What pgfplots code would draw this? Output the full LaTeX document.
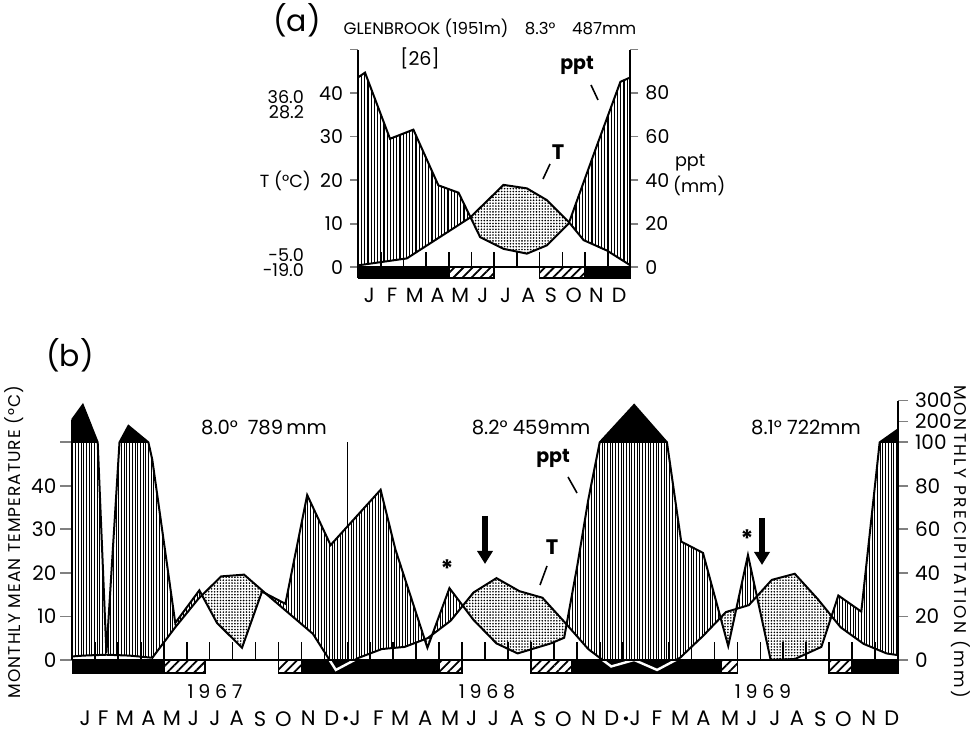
\documentclass[border=0pt]{standalone}
\usepackage{fontspec}
\setmainfont{Poppins}
\usepackage{pgfplots}
\usepackage{pgfplotstable}
\pgfplotsset{compat=1.18}
\usepgfplotslibrary{fillbetween}
\usetikzlibrary{patterns.meta,arrows.meta}

% ---------- panel (a): Glenbrook long-term means ----------
\pgfplotstableread{
x ppt
0 87.2
0.31 89.4
1.41 59.0
2.44 63.2
3.54 37.6
4.43 34.2
5.38 13.8
6.41 8.4
7.44 6.2
8.32 10.0
9.28 20.0
10.5 55.2
11.56 85.2
12 87.2
}\pptA
\pgfplotstableread{
x T
0 0.4
2.15 2.0
4.94 11.4
6.41 18.9
7.44 18.1
8.32 15.4
9.28 10.4
9.94 6.2
10.97 3.8
12 0.4
}\TA
% ---------- panel (b): monthly 1967-1969 ----------
\pgfplotstableread{
x ppt
0 208
0.47 279
1.12 100
1.5 3.2
2.07 100
2.46 179
3.33 100
3.5 92
4.5 17
5.55 32
6.32 17
7.41 5.6
8.28 31.4
9.3 25.8
10.25 75.8
11.27 52.8
13.45 78.2
14.1 50.6
15.49 5.6
16.45 33
17.5 18.4
18.5 7.6
19.42 3
20.87 7.6
21.45 10.2
22.04 44.4
22.5 73.6
23.0 100
24.5 279
25.93 100
26.55 54.4
27.5 49.2
28.6 6.4
29.46 48.2
30.45 0
31.5 0.4
32.66 6
33.4 29.6
34.4 22.2
35.2 100
36 162
}\pptB
\pgfplotstableread{
x T
0 0.8
0.5 1.0
1.5 1.2
2.5 1.0
3.5 0.5
4.5 7.5
5.5 14.0
6.5 19.2
7.5 19.6
8.5 15.0
9.5 10.5
10.5 6.0
11.5 -2.3
12.5 0.5
13.5 2.5
14.5 3.0
15.5 5.0
16.5 9.0
17.5 15.5
18.5 18.8
19.5 15.8
20.5 14.3
21.5 8.5
22.5 2.5
23.5 -1.5
24.5 0.0
25.5 -2.3
26.5 0.5
27.5 5.5
28.5 11.0
29.5 12.6
30.5 18.4
31.5 19.8
32.5 14.0
33.5 7.5
34.5 3.7
35.5 1.5
36 1.1
}\TB

\tikzset{
  humidA/.style={pattern={Lines[angle=90,distance=1.6pt,line width=0.55pt]}},
  humidB/.style={pattern={Lines[angle=90,distance=1.35pt,line width=0.5pt]}},
  arid/.style={pattern={Dots[distance=1.45pt,radius=0.45pt]}},
  hatchbox/.style={pattern={Lines[angle=45,distance=3.2pt,line width=0.9pt]},draw=black,line width=0.8pt},
}
\newcommand{\pptexpr}{\thisrow{ppt}<=100 ? \thisrow{ppt}/2 : 50+(\thisrow{ppt}-100)*0.048}
\newcommand{\Ddot}{D\rlap{\,\textbf{·}}}

\begin{document}
\begin{tikzpicture}
\path (0,0) rectangle (488.5pt,365.5pt);

% ================= (a) =================
\begin{axis}[
  at={(179pt,226.5pt)}, anchor=south west, scale only axis,
  width=136.2pt, height=114.2pt,
  xmin=0, xmax=12, ymin=-2.5, ymax=50,
  axis x line*=bottom, axis y line*=left,
  x axis line style={draw=none},
  y axis line style={line width=1pt},
  xtick={0.5,1.5,...,11.5},
  xticklabels={J,F,M,A,M,J,J,A,S,O,N,D},
  major x tick style={draw=none},
  xticklabel style={yshift=2.6pt, font=\fontsize{10.3}{12}\selectfont},
  ytick={0,10,20,30,40,50},
  yticklabels={0,10,20,30,40,{}},
  tick align=outside, major tick length=4pt,
  major y tick style={line width=0.9pt},
  yticklabel style={font=\fontsize{9.5}{11}\selectfont},
  clip=false,
]
\addplot[draw=none, name path=PA] table[x=x, y expr=\thisrow{ppt}/2] {\pptA};
\addplot[draw=none, name path=TA] table[x=x, y=T] {\TA};
\addplot[draw=none] fill between[of=PA and TA, split,
   every even segment/.style={humidA}, every odd segment/.style={arid}];
\addplot[black, line width=1pt] table[x=x, y expr=\thisrow{ppt}/2] {\pptA};
\addplot[black, line width=1pt] table[x=x, y=T] {\TA};
\addplot[black, line width=0.9pt] coordinates {(0,0) (12,0)};
\addplot[fill=black, draw=black] coordinates {(0,0) (4,0) (4,-2.5) (0,-2.5) (0,0)};
\addplot[hatchbox] coordinates {(4,0) (6,0) (6,-2.5) (4,-2.5) (4,0)};
\addplot[hatchbox] coordinates {(8,0) (10,0) (10,-2.5) (8,-2.5) (8,0)};
\addplot[fill=black, draw=black] coordinates {(10,0) (12,0) (12,-2.5) (10,-2.5) (10,0)};
\pgfplotsinvokeforeach{1,...,11}{\draw[line width=0.8pt] (axis cs:#1,0) -- ++(0,2.2pt);}
\end{axis}
\begin{axis}[
  at={(179pt,226.5pt)}, anchor=south west, scale only axis,
  width=136.2pt, height=114.2pt,
  xmin=0, xmax=12, ymin=-5, ymax=100,
  axis x line=none, axis y line*=right,
  y axis line style={line width=1pt},
  ytick={0,20,40,60,80,100},
  yticklabels={0,20,40,60,80,{}},
  tick align=outside, major tick length=4pt,
  major y tick style={line width=0.9pt},
  yticklabel style={font=\fontsize{9.5}{11}\selectfont},
]
\addplot[draw=none] coordinates {(0,0)};
\end{axis}

% ================= (b) =================
\begin{axis}[
  at={(36pt,29pt)}, anchor=south west, scale only axis,
  width=413pt, height=136.2pt,
  xmin=0, xmax=36, ymin=-3, ymax=59.6,
  axis x line*=bottom, axis y line*=left,
  x axis line style={draw=none},
  y axis line style={draw=none},
  xtick={0.57,1.36,2.31,3.33,4.35,5.29,6.23,7.18,8.20,9.21,10.30,11.32,
         12.34,13.35,14.30,15.39,16.48,17.42,18.37,19.39,20.40,21.42,22.51,23.53,
         24.55,25.49,26.51,27.52,28.68,29.63,30.64,31.59,32.61,33.62,34.72,35.73},
  xticklabels={J,F,M,A,M,J,J,A,S,O,N,\Ddot,J,F,M,A,M,J,J,A,S,O,N,\Ddot,J,F,M,A,M,J,J,A,S,O,N,D},
  major x tick style={draw=none},
  xticklabel style={yshift=-9.8pt, font=\fontsize{10.5}{12}\selectfont},
  ytick={0,10,20,30,40,50},
  yticklabels={0,10,20,30,40,{}},
  tick align=outside, major tick length=5.8pt,
  major y tick style={line width=0.9pt},
  yticklabel style={xshift=1.5pt, font=\fontsize{10}{12}\selectfont},
  clip=false,
]
\addplot[draw=none, name path=PB] table[x=x, y expr={\pptexpr}] {\pptB};
\addplot[draw=none, name path=TB] table[x=x, y=T] {\TB};
\addplot[draw=none] fill between[of=PB and TB, split,
   every even segment/.style={humidB}, every odd segment/.style={arid}];
% part of the precipitation above 100 mm: solid black
\begin{scope}
\clip (axis cs:0,50) rectangle (axis cs:36,62);
\addplot[fill=black, draw=none] table[x=x, y expr={\pptexpr}] {\pptB} \closedcycle;
\end{scope}
\addplot[black, line width=1pt] table[x=x, y expr={\pptexpr}] {\pptB};
\addplot[black, line width=1pt] coordinates {(0,0) (0,55.2)};
\addplot[black, line width=1pt] table[x=x, y=T] {\TB};
\addplot[black, line width=0.9pt] coordinates {(0,0) (36,0)};
% phenology bar
\addplot[fill=black, draw=black] coordinates {(0,0) (4,0) (4,-3) (0,-3) (0,0)};
\addplot[hatchbox] coordinates {(4,0) (5.8,0) (5.8,-3) (4,-3) (4,0)};
\addplot[hatchbox] coordinates {(9,0) (10,0) (10,-3) (9,-3) (9,0)};
\addplot[fill=black, draw=black] coordinates {(10,0) (16,0) (16,-3) (10,-3) (10,0)};
\addplot[hatchbox] coordinates {(16,0) (17,0) (17,-3) (16,-3) (16,0)};
\addplot[hatchbox] coordinates {(20,0) (21.8,0) (21.8,-3) (20,-3) (20,0)};
\addplot[fill=black, draw=black] coordinates {(21.8,0) (28.3,0) (28.3,-3) (21.8,-3) (21.8,0)};
\addplot[hatchbox] coordinates {(28.3,0) (29,0) (29,-3) (28.3,-3) (28.3,0)};
\addplot[hatchbox] coordinates {(33,0) (34,0) (34,-3) (33,-3) (33,0)};
\addplot[fill=black, draw=black] coordinates {(34,0) (36,0) (36,-3) (34,-3) (34,0)};
\begin{scope}
\clip (axis cs:0,-0.25) rectangle (axis cs:36,-3.6);
\addplot[white, line width=1.2pt] table[x=x, y=T] {\TB};
\end{scope}
\pgfplotsinvokeforeach{1,...,35}{\draw[line width=0.8pt] (axis cs:#1,0) -- ++(0,2.5pt);}
\draw[line width=0.8pt] (axis cs:12,-3) -- ++(0,-6pt);
\draw[line width=0.8pt] (axis cs:24,-3) -- ++(0,-6pt);
\draw[line width=0.8pt] (axis cs:12,31) -- (axis cs:12,50);
\end{axis}
\begin{axis}[
  at={(36pt,29pt)}, anchor=south west, scale only axis,
  width=413pt, height=136.2pt,
  xmin=0, xmax=36, ymin=-3, ymax=59.6,
  axis x line=none, axis y line*=right,
  y axis line style={line width=1pt},
  ytick={0,10,20,30,40,50,54.8,59.6},
  yticklabels={0,20,40,60,80,100,200,300},
  tick align=outside, major tick length=5pt,
  major y tick style={line width=0.9pt},
  yticklabel style={font=\fontsize{10}{12}\selectfont},
]
\addplot[draw=none] coordinates {(0,0)};
\end{axis}

% ================= annotations (pixel grid of the reference) =================
\begin{scope}[x=0.5pt, y=-0.5pt, yshift=365.5pt]
\node at (297,20) {\fontsize{15}{17}\selectfont (a)};
\node at (490,28) {\fontsize{8.3}{9}\selectfont GLENBROOK (1951m)\quad 8.3°\quad 487mm};
\node at (420,58) {\fontsize{9.5}{10}\selectfont [26]};
\node[anchor=east] at (311,97) {\fontsize{8.8}{10}\selectfont 36.0};
\node[anchor=east] at (311,112) {\fontsize{8.8}{10}\selectfont 28.2};
\node[anchor=east] at (318,181) {\fontsize{8.8}{10}\selectfont T (°C)};
\node[anchor=east] at (311,255) {\fontsize{8.8}{10}\selectfont -5.0};
\node[anchor=east] at (311,270) {\fontsize{8.8}{10}\selectfont -19.0};
\node[anchor=west] at (668,163) {\fontsize{8.8}{10}\selectfont ppt};
\node[anchor=west] at (666,186) {\fontsize{8.8}{10}\selectfont (mm)};
\node at (577,65) {\fontsize{9.5}{10}\selectfont\bfseries ppt};
\draw[line width=0.8pt] (591,85) -- (598,100);
\node at (558,152) {\fontsize{10.5}{11}\selectfont\bfseries T};
\draw[line width=0.8pt] (550,164) -- (543,179);

\node at (70,355) {\fontsize{15}{17}\selectfont (b)};
\node at (264,427) {\fontsize{9.8}{10}\selectfont 8.0°\enspace 789\,mm};
\node at (531,427) {\fontsize{9.8}{10}\selectfont 8.2° 459mm};
\node at (806,427) {\fontsize{9.8}{10}\selectfont 8.1° 722mm};
\node at (553,458) {\fontsize{9.5}{10}\selectfont\bfseries ppt};
\draw[line width=0.8pt] (568,477) -- (577,493);
\node at (552,547) {\fontsize{10.5}{11}\selectfont\bfseries T};
\draw[line width=0.8pt] (547,566) -- (540,585);
\draw[line width=2.8pt, -{Triangle[width=7.5pt,length=6.5pt]}] (485,516) -- (485,564);
\draw[line width=2.8pt, -{Triangle[width=7.5pt,length=6.5pt]}] (762,518) -- (762,565);
\node at (447,569) {\fontsize{12}{12}\selectfont\bfseries *};
\node at (747,539) {\fontsize{12}{12}\selectfont\bfseries *};
\node at (215,692) {\fontsize{9.5}{10}\selectfont\addfontfeatures{LetterSpace=25}1967};
\node at (487,692) {\fontsize{9.5}{10}\selectfont\addfontfeatures{LetterSpace=25}1968};
\node at (763,692) {\fontsize{9.5}{10}\selectfont\addfontfeatures{LetterSpace=25}1969};
\node[rotate=90] at (14,542) {\fontsize{8.5}{9}\selectfont\addfontfeatures{LetterSpace=6}MONTHLY MEAN TEMPERATURE (°C)};
\node[rotate=-90] at (961,542) {\fontsize{8.5}{9}\selectfont\addfontfeatures{LetterSpace=14}MONTHLY PRECIPITATION (mm)};
\end{scope}
\pgfresetboundingbox
\path[use as bounding box] (0,0) rectangle (488.5pt,365.5pt);
\end{tikzpicture}
\end{document}
